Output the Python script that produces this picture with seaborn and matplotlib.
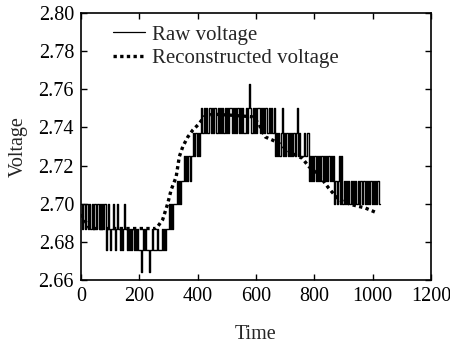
import numpy as np
import pandas as pd
import matplotlib
matplotlib.use("Agg")
import matplotlib.pyplot as plt
import seaborn as sns

# quantisation levels of the raw ADC signal (volts)
raw_levels = [2.664, 2.676, 2.687, 2.700, 2.712, 2.725, 2.737, 2.750, 2.763]
raw_step = 4  # time units between raw samples
# level index per raw sample
raw_codes = (
    "32323323232332323232"
    "31232123212321212321"
    "21212121211012121101"
    "12111211121212232323"
    "33434344545454556565"
    "65676767667676776767"
    "67676767767676767676"
    "67678767676776767676"
    "67676756565675656565"
    "65656756555655645454"
    "54545454545454545343"
    "45353434343434343434"
    "43434343434343433"
)

# reconstructed voltage (time, value)
rec_time = [0, 0, 30, 100, 180, 258, 280, 297, 309, 326, 337, 349, 366, 383, 405,
            422, 451, 519, 587, 610, 621, 632, 656, 678, 723, 758, 781, 815, 849,
            883, 928, 974, 1016]
rec_volt = [2.699, 2.690, 2.687, 2.687, 2.687, 2.687, 2.6917, 2.700, 2.7073, 2.714,
            2.7247, 2.730, 2.735, 2.7386, 2.742, 2.7456, 2.747, 2.7464, 2.7456,
            2.7420, 2.7378, 2.735, 2.7334, 2.7317, 2.7264, 2.7239, 2.7195, 2.7151,
            2.7082, 2.7021, 2.6995, 2.6978, 2.6951]

raw_volt = [raw_levels[int(c)] for c in raw_codes]
raw_time = [i * raw_step for i in range(len(raw_volt))]
raw = pd.DataFrame({"Time": raw_time, "Voltage": raw_volt})
rec = pd.DataFrame({"Time": rec_time, "Voltage": rec_volt})

sns.set_style("ticks")
plt.rcParams['font.family'] = ['Liberation Serif', 'DejaVu Serif']

fig = plt.figure(figsize=(4.5, 3.44), dpi=100)
ax = fig.add_axes([0.18, 0.186, 0.778, 0.776])

sns.lineplot(data=raw, x="Time", y="Voltage", ax=ax, color="black", lw=1.0,
             drawstyle="steps-post", label="Raw voltage")
sns.lineplot(data=rec, x="Time", y="Voltage", ax=ax, color="black", lw=2.4,
             linestyle=(0, (1, 1)), label="Reconstructed voltage")

ax.set_xlim(0, 1200)
ax.set_ylim(2.66, 2.80)
ax.set_xticks(np.arange(0, 1201, 200))
ax.set_yticks(np.arange(2.66, 2.801, 0.02))
ax.yaxis.set_major_formatter(matplotlib.ticker.FormatStrFormatter("%.2f"))
ax.tick_params(direction="in", top=True, right=True, length=4, width=1,
               labelsize=14.5, colors="black", pad=5)
for s in ax.spines.values():
    s.set_linewidth(1.2)
    s.set_color("black")

ax.set_xlabel("Time", fontsize=14.5, labelpad=14)
ax.set_ylabel("Voltage", fontsize=14.5, labelpad=8)

leg = ax.legend(loc="upper left", bbox_to_anchor=(0.09, 0.955), frameon=False,
                fontsize=15, handlelength=1.55, handletextpad=0.35,
                labelspacing=0.2, borderpad=0, borderaxespad=0)
leg.get_lines()[0].set_linewidth(0.9)

fig.savefig("out.png", dpi=100)
